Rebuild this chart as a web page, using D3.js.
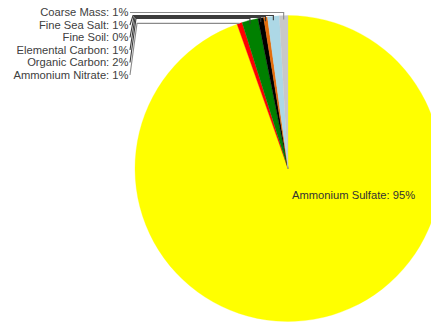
<!DOCTYPE html>
<html>
<head>
<meta charset="utf-8">
<script src="https://cdn.jsdelivr.net/npm/d3@7"></script>
<style>
  html, body { margin: 0; padding: 0; background: #fff; }
  svg { display: block; }
  text { font-family: "Liberation Sans", Arial, sans-serif; }
</style>
</head>
<body>
<svg id="chart" width="431" height="324"></svg>
<script>
// Fine particulate composition (share of total mass)
const categories = ["Ammonium Sulfate", "Ammonium Nitrate", "Organic Carbon",
                    "Elemental Carbon", "Fine Soil", "Fine Sea Salt", "Coarse Mass"];
const values = [94.6, 0.55, 1.7, 0.6, 0.4, 1.25, 0.9];
const colors = ["#ffff00", "#ff0000", "#008000", "#000000", "#e46c0a", "#add8e6", "#c8c8c8"];

const W = 431, H = 324;
const cx = 288, cy = 168.5, r = 153;

const svg = d3.select("#chart");
const total = d3.sum(values);
const pct = d3.format(".0%");

const data = categories.map((c, i) => ({ name: c, value: values[i], color: colors[i] }));
const pie = d3.pie().value(d => d.value).sort(null);
const arcs = pie(data);
const arc = d3.arc().innerRadius(0).outerRadius(r);

const g = svg.append("g").attr("transform", `translate(${cx},${cy})`);
g.selectAll("path.slice")
  .data(arcs)
  .join("path")
  .attr("class", "slice")
  .attr("d", arc)
  .attr("fill", d => d.data.color)
  .attr("stroke", d => d.data.color)
  .attr("stroke-width", 0.3);

// Label for the dominant slice, set inside the pie
const big = arcs[0];
svg.append("text")
  .attr("x", cx + 4)
  .attr("y", cy + 27)
  .attr("dy", "0.35em")
  .attr("font-size", 11.2)
  .attr("fill", "#333")
  .text(`${big.data.name}: ${pct(big.data.value / total)}`);

// Small slices: labels stacked at the upper left, joined to the rim by leaders
const small = arcs.slice(1).reverse();   // Coarse Mass first (top)
const labelRight = 128.5;
const rowY = k => 12.5 + k * 12.5;
const leaderY = [12.5, 15.5, 16.5, 17.5, 18.5, null];
const elbowX = [null, 133, 134, 135, 136, 137];

small.forEach((a, k) => {
  const mid = (a.startAngle + a.endAngle) / 2;
  const rx = cx + r * Math.sin(mid);
  const ry = cy - r * Math.cos(mid);
  const y = rowY(k);
  const hy = leaderY[k] === null ? ry : leaderY[k];
  const pts = [[labelRight + 1.5, y]];
  if (elbowX[k] !== null) pts.push([elbowX[k], hy]);
  pts.push([rx, hy]);
  if (leaderY[k] !== null) pts.push([rx, ry + 4]);
  svg.append("path")
    .attr("d", d3.line()(pts))
    .attr("fill", "none")
    .attr("stroke", (k === 0 || k === 5) ? "#8a8a8a" : "#3c3c3c")
    .attr("stroke-width", 1.1);

  svg.append("text")
    .attr("x", labelRight)
    .attr("y", y)
    .attr("dy", "0.35em")
    .attr("text-anchor", "end")
    .attr("font-size", 11.2)
    .attr("fill", "#404040")
    .text(`${a.data.name}: ${pct(a.data.value / total)}`);
});
</script>
</body>
</html>
